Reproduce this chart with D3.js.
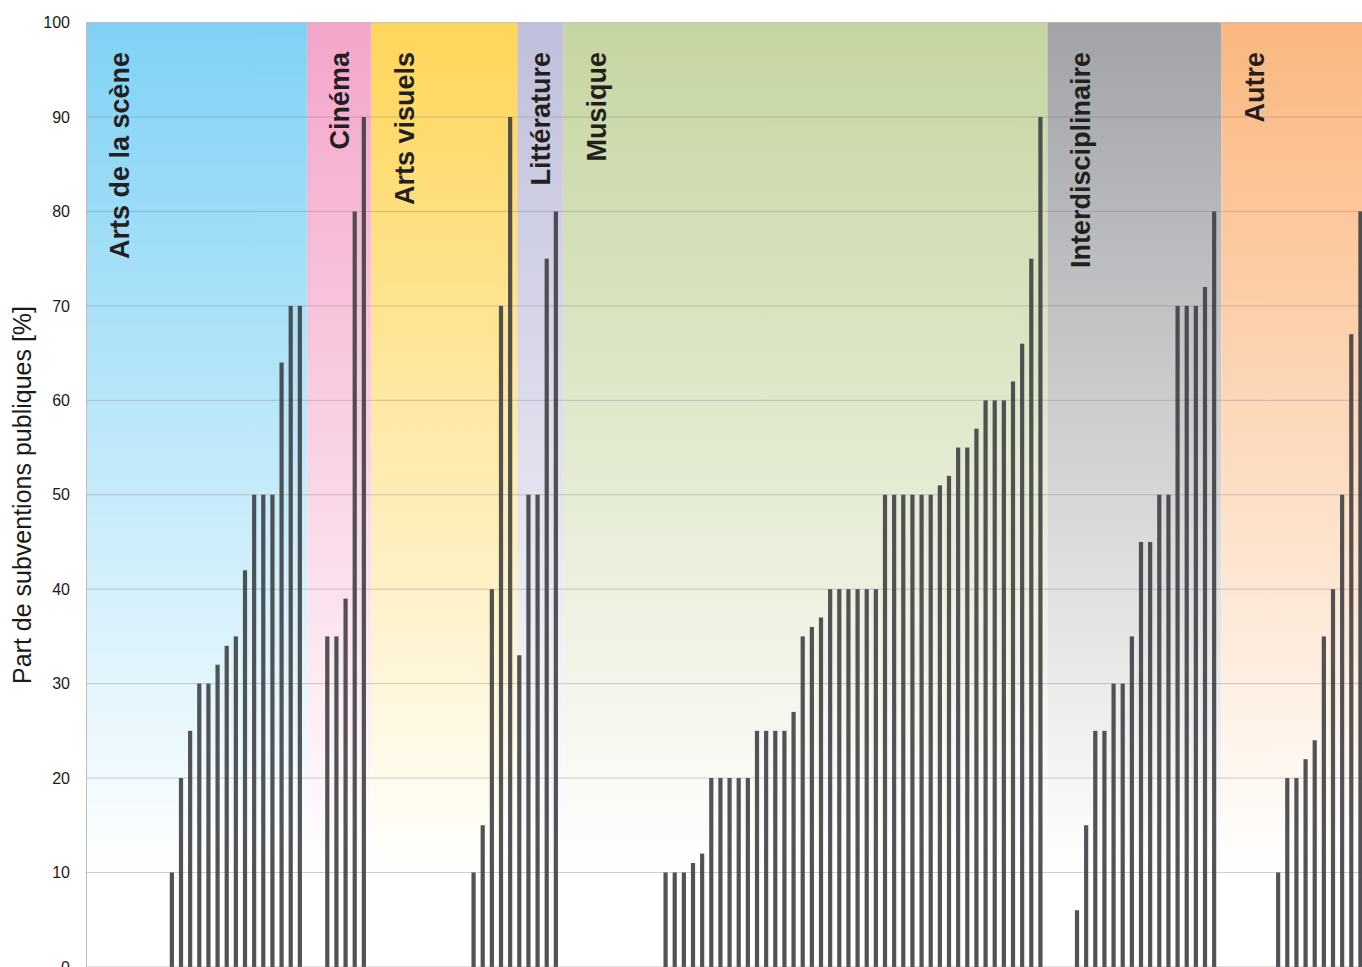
<!DOCTYPE html>
<html>
<head>
<meta charset="utf-8">
<script src="https://cdn.jsdelivr.net/npm/d3@7"></script>
<style>
  html, body { margin: 0; padding: 0; background: #fff; }
  svg { display: block; font-family: "Liberation Sans", Arial, Helvetica, sans-serif; }
</style>
</head>
<body>
<svg id="chart" width="1362" height="967"></svg>
<script>
// domains, one list of sorted values per domain (zeros = no public subsidy)
var groups = ["Arts de la scène", "Cinéma", "Arts visuels", "Littérature", "Musique", "Interdisciplinaire", "Autre"];

var artsScene = [0, 0, 0, 0, 0, 0, 0, 0, 0, 10, 20, 25, 30, 30, 32, 34, 35, 42, 50, 50, 50, 64, 70, 70];
var cinema = [0, 0, 35, 35, 39, 80, 90];
var artsVisuels = [0, 0, 0, 0, 0, 0, 0, 0, 0, 0, 0, 10, 15, 40, 70, 90];
var litterature = [33, 50, 50, 75, 80];
var musique = [0, 0, 0, 0, 0, 0, 0, 0, 0, 0, 0,
  10, 10, 10, 11, 12, 20, 20, 20, 20, 20, 25, 25, 25, 25, 27, 35, 36, 37,
  40, 40, 40, 40, 40, 40, 50, 50, 50, 50, 50, 50, 51, 52, 55, 55, 57,
  60, 60, 60, 62, 66, 75, 90];
var interdisciplinaire = [0, 0, 0, 6, 15, 25, 25, 30, 30, 35, 45, 45, 50, 50, 70, 70, 70, 72, 80];
var autre = [0, 0, 0, 0, 0, 0, 10, 20, 20, 22, 24, 35, 40, 50, 67, 80];

var groupValues = [artsScene, cinema, artsVisuels, litterature, musique, interdisciplinaire, autre];
var yTicks = [0, 10, 20, 30, 40, 50, 60, 70, 80, 90, 100];

var groupColors = ["#7fd2f5", "#f4a5ca", "#fed659", "#c0bfdc", "#c5d5a0", "#a2a3a7", "#fbb77f"];

var svg = d3.select("#chart");
    width = +svg.attr("width");
    height = +svg.attr("height");
var axisX = 86;

// flatten into one slot per organisation
var rows = [];
var groupStart = [];
groupValues.forEach(function(vals, g) {
  groupStart.push(rows.length);
  vals.forEach(function(v) { rows.push({group: g, value: v}); });
});
groupStart.push(rows.length);

var x = d3.scaleBand()
    .domain(d3.range(rows.length))
    .range([85, 1365])
    .paddingInner(0.54)
    .paddingOuter(0.27);

var y = d3.scaleLinear()
    .domain([0, 100])
    .range([966.9, 22.6]);

var step = x.step();
function edge(k) {
  if (k == 0) return axisX;
  return x.range()[0] + (k + 0.27) * step;
}

// background gradients
var defs = svg.append("defs");
groupColors.forEach(function(c, i) {
  var grad = defs.append("linearGradient")
      .attr("id", "bg" + i)
      .attr("gradientUnits", "userSpaceOnUse")
      .attr("x1", 0).attr("x2", 0)
      .attr("y1", y(100)).attr("y2", y(0));
  grad.append("stop").attr("offset", 0).attr("stop-color", c);
  grad.append("stop").attr("offset", 0.9).attr("stop-color", "#ffffff");
});

svg.append("g")
    .attr("class", "bands")
  .selectAll("rect")
  .data(groups)
  .enter().append("rect")
    .attr("x", function(d, i) { return edge(groupStart[i]); })
    .attr("width", function(d, i) { return edge(groupStart[i + 1]) - edge(groupStart[i]); })
    .attr("y", y(100))
    .attr("height", y(0) - y(100))
    .attr("fill", function(d, i) { return "url(#bg" + i + ")"; });

// grid
svg.append("g")
    .attr("class", "grid")
  .selectAll("line")
  .data(yTicks)
  .enter().append("line")
    .attr("x1", axisX)
    .attr("x2", width)
    .attr("y1", function(d) { return y(d); })
    .attr("y2", function(d) { return y(d); })
    .attr("stroke", "#7f7f7f")
    .attr("stroke-opacity", 0.38)
    .attr("stroke-width", 1);

// bars
svg.append("g")
    .attr("class", "bars")
  .selectAll("rect")
  .data(rows)
  .enter().append("rect")
    .attr("x", function(d, i) { return x(i); })
    .attr("width", x.bandwidth())
    .attr("y", function(d) { return y(d.value); })
    .attr("height", function(d) { return y(0) - y(d.value); })
    .attr("fill", "#3a3b40")
    .attr("fill-opacity", 0.88);

// group labels
svg.append("g")
    .attr("class", "labels")
  .selectAll("text")
  .data(groups)
  .enter().append("text")
    .attr("transform", function(d, i) {
      var l = edge(groupStart[i]), r = edge(groupStart[i + 1]);
      var cx = Math.min(l + 33, (l + r) / 2);
      return "translate(" + (cx + 10) + ",52) rotate(-90)";
    })
    .attr("text-anchor", "end")
    .attr("font-size", 27)
    .attr("font-weight", "bold")
    .attr("fill", "#231f20")
    .text(function(d) { return d; });

// y axis
var yAxis = svg.append("g")
    .attr("transform", "translate(" + axisX + ",0)")
    .call(d3.axisLeft(y).tickValues(yTicks).tickSize(0).tickPadding(16));
yAxis.select(".domain").attr("stroke", "#bdbdbd");
yAxis.selectAll("text")
    .attr("font-size", 16)
    .attr("font-family", "Liberation Sans, Arial, sans-serif")
    .attr("fill", "#1a1a1a");

svg.append("text")
    .attr("transform", "translate(31," + 495 + ") rotate(-90)")
    .attr("text-anchor", "middle")
    .attr("font-size", 25)
    .attr("fill", "#1a1a1a")
    .text("Part de subventions publiques [%]");
</script>
</body>
</html>
